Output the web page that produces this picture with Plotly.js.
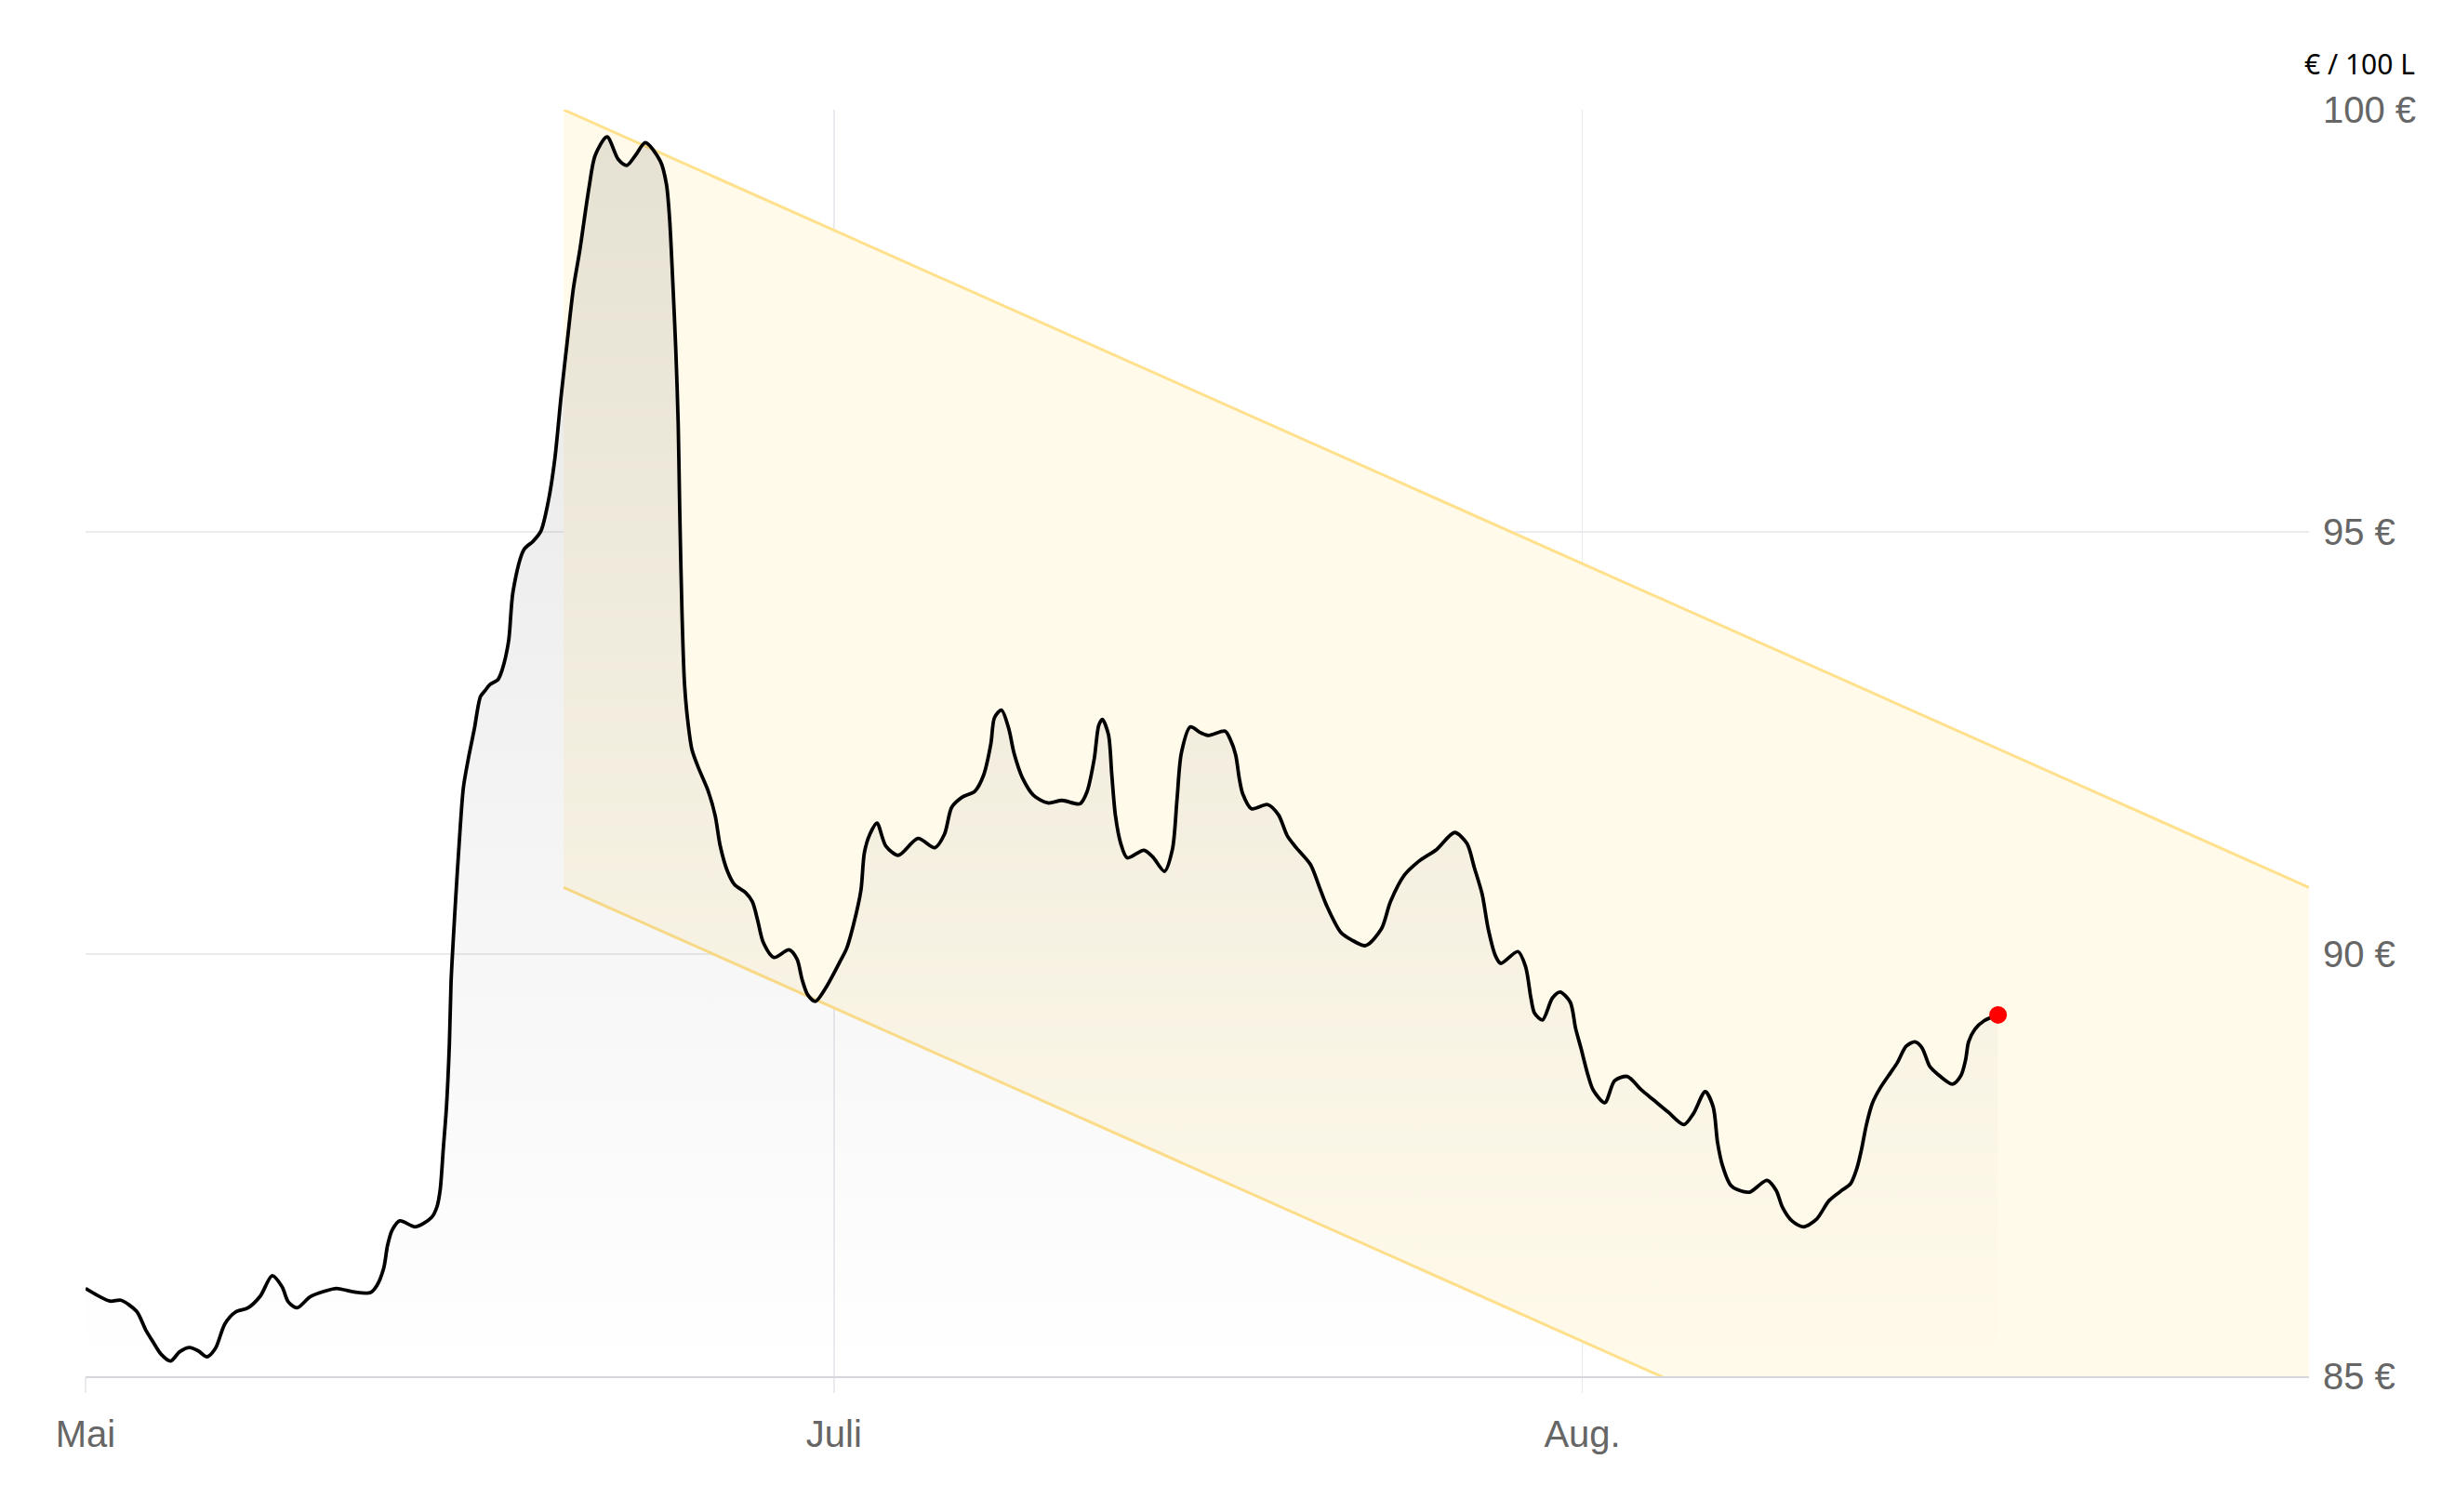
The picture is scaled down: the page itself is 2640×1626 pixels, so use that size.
<!DOCTYPE html>
<html>
<head>
<meta charset="utf-8">
<script src="https://cdn.plot.ly/plotly-3.0.1.min.js"></script>
<style>
  html, body { margin: 0; padding: 0; background: #ffffff; }
  #chart { width: 2640px; height: 1626px; }
</style>
</head>
<body>
<div id="chart"></div>
<script>
// Days counted from 31 May (tick "Mai"); 1 July = day 31, 1 August = day 62
const days = [
  0.00, 1.01, 1.46, 2.11, 2.49, 2.81, 3.13, 3.52, 3.90, 4.31, 4.67, 5.03, 5.38, 5.77, 6.21, 6.73,
  7.24, 7.73, 8.14, 8.40, 8.76, 9.30, 9.94, 10.39, 11.09, 11.80, 12.06, 12.35, 12.51, 12.70, 13.02,
  13.66, 14.33, 14.56, 14.69, 14.82, 14.95, 15.07, 15.14, 15.23, 15.33, 15.46, 15.65, 15.84, 16.10,
  16.36, 16.55, 16.74, 17.08, 17.26, 17.52, 17.71, 18.16, 18.54, 18.86, 19.18, 19.44, 19.70, 19.95,
  20.21, 20.47, 20.85, 21.11, 21.60, 22.07, 22.42, 22.78, 23.19, 23.81, 24.06, 24.19, 24.32, 24.45,
  24.55, 24.61, 24.71, 24.81, 24.93, 25.12, 25.41, 25.78, 26.08, 26.29, 26.59, 26.89, 27.33, 27.62,
  27.84, 28.07, 28.51, 29.14, 29.47, 29.68, 29.91, 30.23, 30.64, 31.23, 31.53, 31.82, 32.12, 32.26,
  32.49, 32.78, 33.15, 33.67, 34.48, 35.18, 35.58, 35.88, 36.32, 36.84, 37.20, 37.50, 37.65, 37.94,
  38.24, 38.46, 38.82, 39.27, 39.86, 40.45, 41.19, 41.48, 41.78, 41.97, 42.12, 42.37, 42.51, 42.66,
  42.88, 43.15, 43.84, 44.21, 44.69, 45.02, 45.21, 45.39, 45.76, 46.20, 46.53, 47.20, 47.42, 47.64,
  47.79, 47.93, 48.30, 48.96, 49.41, 49.78, 50.15, 50.74, 51.10, 51.40, 51.99, 52.43, 53.02, 53.68,
  54.05, 54.64, 55.23, 55.97, 56.71, 57.22, 57.52, 57.85, 58.10, 58.40, 58.62, 59.33, 59.65, 59.87,
  60.02, 60.35, 60.76, 61.08, 61.50, 61.72, 61.94, 62.23, 62.45, 62.93, 63.34, 63.86, 64.45, 64.96,
  65.55, 66.21, 66.60, 67.09, 67.42, 67.60, 67.81, 68.15, 68.42, 68.92, 69.65, 70.03, 70.29, 70.68,
  71.16, 71.70, 72.22, 72.79, 73.11, 73.37, 73.56, 73.76, 74.01, 74.33, 74.78, 75.04, 75.42, 75.78,
  76.07, 76.39, 76.71, 77.33, 77.68, 77.87, 78.00, 78.26, 78.64, 79.22
];
// Heating oil price, € per 100 L
const prices = [
  86.04, 85.89, 85.90, 85.77, 85.55, 85.40, 85.26, 85.18, 85.29, 85.34, 85.30, 85.23, 85.33, 85.62, 85.76, 85.81,
  85.95, 86.19, 86.06, 85.88, 85.81, 85.94, 86.01, 86.04, 86.00, 85.99, 86.07, 86.28, 86.55, 86.73, 86.84,
  86.77, 86.88, 87.01, 87.21, 87.70, 88.19, 88.93, 89.67, 90.16, 90.65, 91.24, 91.97, 92.29, 92.66,
  93.05, 93.12, 93.19, 93.25, 93.37, 93.70, 94.30, 94.79, 94.89, 95.01, 95.38, 95.87, 96.61, 97.25,
  97.89, 98.33, 99.07, 99.46, 99.68, 99.41, 99.34, 99.46, 99.61, 99.39, 99.12, 98.72, 97.99, 97.15,
  96.27, 95.28, 94.00, 93.20, 92.80, 92.42, 92.19, 91.94, 91.64, 91.28, 90.98, 90.82, 90.73, 90.62,
  90.40, 90.14, 89.96, 90.05, 89.94, 89.70, 89.52, 89.44, 89.59, 89.90, 90.07, 90.36, 90.76, 91.20,
  91.42, 91.55, 91.28, 91.17, 91.37, 91.26, 91.42, 91.74, 91.86, 91.93, 92.12, 92.49, 92.80, 92.89,
  92.67, 92.38, 92.08, 91.88, 91.79, 91.82, 91.78, 91.92, 92.31, 92.71, 92.78, 92.60, 92.12, 91.64,
  91.31, 91.14, 91.23, 91.15, 90.98, 91.24, 91.83, 92.38, 92.69, 92.62, 92.59, 92.64, 92.54, 92.36,
  92.08, 91.90, 91.72, 91.77, 91.65, 91.40, 91.26, 91.06, 90.80, 90.58, 90.26, 90.17, 90.10, 90.30,
  90.62, 90.94, 91.10, 91.24, 91.44, 91.31, 91.03, 90.71, 90.30, 89.98, 89.89, 90.03, 89.85, 89.48,
  89.30, 89.22, 89.48, 89.55, 89.43, 89.12, 88.89, 88.57, 88.39, 88.24, 88.50, 88.55, 88.39, 88.27,
  88.13, 87.98, 88.11, 88.37, 88.19, 87.77, 87.49, 87.26, 87.21, 87.18, 87.32, 87.20, 87.00, 86.84,
  86.77, 86.86, 87.08, 87.21, 87.28, 87.46, 87.68, 87.97, 88.23, 88.41, 88.60, 88.71, 88.91, 88.96,
  88.89, 88.67, 88.58, 88.46, 88.56, 88.74, 88.96, 89.11, 89.21, 89.28
];

// Trend channel (start / end of the channel)
const channelDays = [19.8, 92.1];
const channelUpper = [100.0, 90.79];
const channelLower = [90.79, 81.58];

// Axis ticks
const xTickVals = [0, 31, 62];
const xTickText = ['Mai', 'Juli', 'Aug.'];
const yTickVals = [85, 90, 95, 100];
const yTickText = ['85 €', '90 €', '95 €', '100 €'];
const unitLabel = '€ / 100 L';

const lastIdx = days.length - 1;

const traces = [
  {
    x: channelDays, y: channelLower, mode: 'lines', type: 'scatter',
    line: { color: '#ffe08c', width: 3 }, hoverinfo: 'skip', showlegend: false
  },
  {
    x: channelDays, y: channelUpper, mode: 'lines', type: 'scatter',
    fill: 'tonexty', fillcolor: '#fffaea',
    line: { color: '#ffe08c', width: 3 }, hoverinfo: 'skip', showlegend: false
  },
  {
    x: days, y: prices, mode: 'lines', type: 'scatter',
    line: { color: '#000000', width: 3.8, shape: 'spline', smoothing: 0.8 },
    fill: 'tozeroy',
    fillgradient: {
      type: 'vertical', start: 85, stop: 100,
      colorscale: [[0, 'rgba(0,0,0,0)'], [1, 'rgba(0,0,0,0.1)']]
    },
    hoverinfo: 'skip', showlegend: false
  },
  {
    x: [days[lastIdx]], y: [prices[lastIdx]], mode: 'markers', type: 'scatter',
    marker: { color: '#ff0000', size: 19 }, hoverinfo: 'skip', showlegend: false
  }
];

const layout = {
  width: 2640, height: 1626,
  margin: { l: 92, r: 157, t: 118, b: 146 },
  paper_bgcolor: '#ffffff', plot_bgcolor: '#ffffff',
  showlegend: false, hovermode: false,
  font: { family: 'Liberation Sans, Arial, sans-serif', size: 40, color: '#666666' },
  xaxis: {
    range: [0, 92.1], tickmode: 'array', tickvals: xTickVals, ticktext: xTickText,
    showgrid: true, gridcolor: '#ebebef', gridwidth: 1.5,
    showline: true, linecolor: '#d6d6dc', linewidth: 2,
    ticks: 'outside', ticklen: 16, tickcolor: '#ebebef', tickwidth: 1.5,
    ticklabelstandoff: 10,
    zeroline: false, fixedrange: true,
    tickfont: { family: 'Liberation Sans, Arial, sans-serif', size: 40, color: '#666666' }
  },
  yaxis: {
    range: [85, 100], side: 'right', tickmode: 'array', tickvals: yTickVals, ticktext: yTickText,
    showgrid: true, gridcolor: '#ebebef', gridwidth: 1.5,
    showline: false, zeroline: false, ticks: '', ticklabelstandoff: 14,
    fixedrange: true,
    tickfont: { family: 'Liberation Sans, Arial, sans-serif', size: 40, color: '#666666' }
  },
  annotations: [{
    text: unitLabel, xref: 'paper', yref: 'paper',
    x: 1.0485, y: 1.036, xanchor: 'right', yanchor: 'middle', showarrow: false,
    font: { family: 'Noto Sans, sans-serif', size: 30, color: '#000000' }
  }]
};

Plotly.newPlot('chart', traces, layout, { displayModeBar: false, staticPlot: true });
</script>
</body>
</html>
